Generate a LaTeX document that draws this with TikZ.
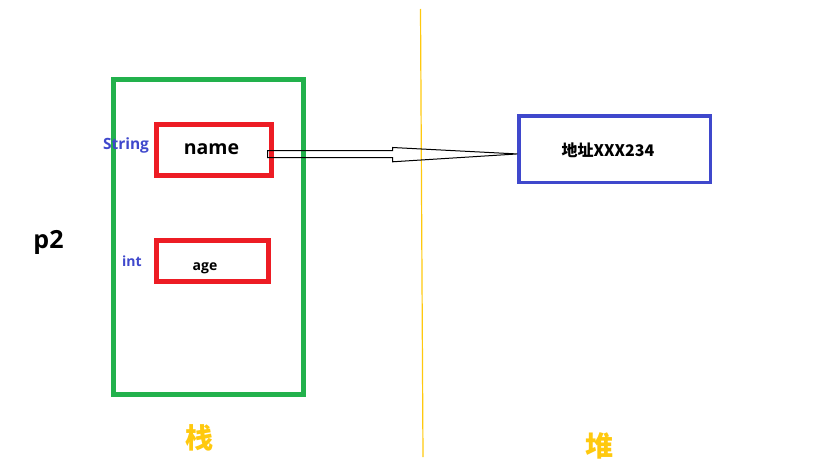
\documentclass[tikz,border=0pt]{standalone}
\usepackage{fontspec}
\setmainfont{Open Sans}
\newfontfamily\cjk{Noto Sans CJK SC}
\usetikzlibrary{positioning,calc}
\definecolor{pgreen}{RGB}{34,177,76}
\definecolor{pred}{RGB}{237,28,36}
\definecolor{pblue}{RGB}{63,72,204}
\definecolor{pyellow}{RGB}{255,201,14}

\begin{document}
\begin{tikzpicture}[x=1pt,y=-1pt,
	box/.style={draw,rectangle,inner sep=0pt},
	field/.style={box,draw=pred,line width=5pt},
	typ/.style={anchor=base,text=pblue,font=\bfseries\fontsize{15.5}{18}\selectfont},
	big/.style={anchor=base,text=pyellow,font=\cjk\bfseries\fontsize{28}{32}\selectfont}]

			\useasboundingbox (0,0) rectangle (819,460);

			%divider
			\draw[pyellow,line width=1.2pt] (420.5,9) -- (423,457);

			%stack
			\node [box,draw=pgreen,line width=5pt,minimum width=190pt,minimum height=315pt] (stack) at (208.5,236.5) {};
			\node [field,minimum width=115pt,minimum height=51pt] (name) at (213.5,149.5) {};
			\node [field,minimum width=112pt,minimum height=41pt] (age) at (212.5,261) {};

			%heap
			\node [box,draw=pblue,line width=3.5pt,minimum width=191.5pt,minimum height=66.5pt] (addr) at (614.75,149.25) {};

			%texts
			\node [anchor=base,font=\bfseries\fontsize{19.5}{22}\selectfont] (namet) at (211.5,154.3) {name};
			\node [anchor=base,font=\bfseries\fontsize{14}{17}\selectfont] (aget) at (205,270) {age};
			\node [anchor=base,font=\cjk\bfseries\fontsize{16}{19}\selectfont] (addrt) at (608,156.5) {地址XXX234};
			\node [typ] (str) at (126,149.5) {String};
			\node [typ,font=\bfseries\fontsize{14}{17}\selectfont] (int) at (132,266.5) {int};
			\node [anchor=base,font=\bfseries\fontsize{25}{30}\selectfont] (p2) at (48.5,248.5) {p2};
			\node [big] (zhan) at (199.5,448.5) {栈};
			\node [big] (dui) at (599,456) {堆};

			%pointer
			\coordinate (tailtop) at ($(name.east)+(-6,1)$);
			\coordinate (tailbot) at ($(name.east)+(-6,8)$);
			\coordinate (tip) at ($(addr.west)+(0,4.7)$);
			\draw[line width=1pt] (tailtop) -- ++(125,0) -- ++(0,-3) -- (tip) -- ($(tailbot)+(125,4.3)$) -- ++(0,-4.3) -- (tailbot) -- cycle;
		\end{tikzpicture}
\end{document}
